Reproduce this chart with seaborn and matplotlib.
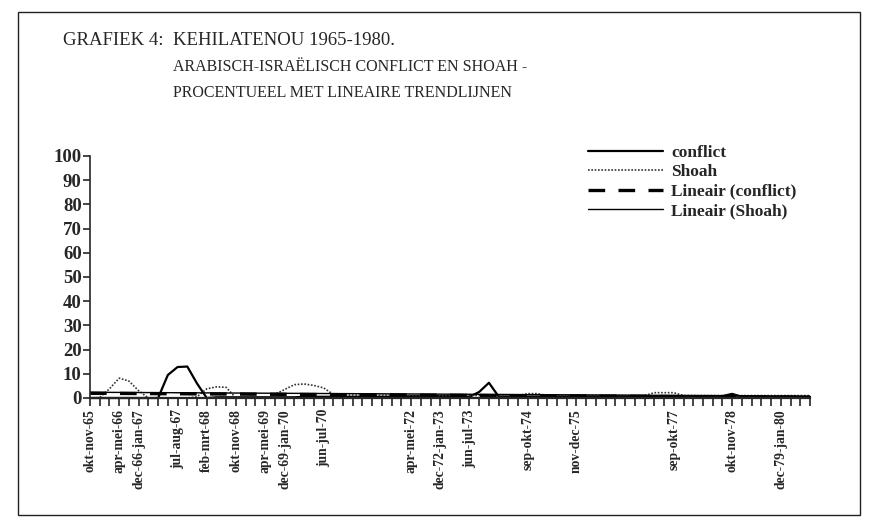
import numpy as np
import pandas as pd
import matplotlib
matplotlib.use("Agg")
import matplotlib.pyplot as plt
import seaborn as sns

# ---------------- data ----------------
n_periods = 75
label_idx = [0, 3, 5, 9, 12, 15, 18, 20, 24, 33, 36, 39, 45, 50, 60, 66, 71]
label_txt = ["okt-nov-65", "apr-mei-66", "dec-66-jan-67", "jul-aug-67", "feb-mrt-68",
             "okt-nov-68", "apr-mei-69", "dec-69-jan-70", "jun-jul-70", "apr-mei-72",
             "dec-72-jan-73", "jun-jul-73", "sep-okt-74", "nov-dec-75", "sep-okt-77",
             "okt-nov-78", "dec-79-jan-80"]

conflict = [
    0, 0, 0, 0, 0, 0, 0, 0, 9.5, 12.8,
    13.0, 6.0, 0, 0.3, 0.3, 0.3, 0.3, 0.3, 0.3, 0.3,
    0.3, 0.3, 0.5, 0.5, 0.5, 0.5, 0.5, 0.5, 0.5, 0.5,
    0.5, 0.5, 0.5, 0.8, 0.8, 0.8, 0.8, 0.8, 0.8, 0.5,
    2.5, 6.3, 0.6, 0.6, 0.6, 0.6, 0.6, 0.6, 0.6, 0.6,
    0.6, 0.6, 0.6, 0.6, 0.6, 0.6, 0.6, 0.6, 0.6, 0.6,
    0.6, 0.6, 0.6, 0.6, 0.6, 0.8, 1.7, 0.5, 0.5, 0.5,
    0.5, 0.5, 0.5, 0.5, 0.5]

shoah = [
    0, 0.2, 3.8, 8.2, 7.0, 3.0, 0, 0, 0, 0,
    0, 0.5, 3.8, 4.6, 4.4, 0, 0, 0, 0, 1.5,
    3.5, 5.5, 5.8, 5.2, 4.2, 1.5, 1.2, 1.2, 1.2, 1.2,
    1.2, 1.2, 1.2, 1.0, 1.0, 1.0, 1.0, 1.0, 1.0, 1.0,
    1.0, 1.0, 1.0, 1.0, 1.0, 1.8, 1.8, 1.0, 1.0, 1.0,
    1.0, 1.0, 1.0, 1.0, 1.0, 1.0, 1.0, 1.0, 2.2, 2.2,
    2.2, 1.0, 1.0, 1.0, 1.0, 1.0, 1.0, 1.0, 1.0, 1.0,
    1.0, 1.0, 1.0, 1.0, 1.0]

y_ticks = [0, 10, 20, 30, 40, 50, 60, 70, 80, 90, 100]

title_lines = ["KEHILATENOU 1965-1980.",
               "ARABISCH-ISRAËLISCH CONFLICT EN SHOAH -",
               "PROCENTUEEL MET LINEAIRE TRENDLIJNEN"]

# ---------------- plot ----------------
sns.set_style("ticks")
plt.rcParams["font.family"] = ["Liberation Serif", "DejaVu Serif"]

W, H = 878, 524
fig = plt.figure(figsize=(W / 100, H / 100), dpi=100)
ax = fig.add_axes([90 / W, 1 - 398 / H, (810 - 90) / W, (398 - 156) / H])

df = pd.DataFrame({"x": np.arange(n_periods), "conflict": conflict, "Shoah": shoah})

sns.lineplot(data=df, x="x", y="conflict", ax=ax, color="black", lw=1.6,
             label="conflict", clip_on=False)
sns.lineplot(data=df, x="x", y="Shoah", ax=ax, color="#333333", lw=1.2,
             linestyle=(0, (1, 1)), label="Shoah", clip_on=False)
sns.regplot(data=df, x="x", y="conflict", ax=ax, scatter=False, ci=None,
            label="Lineair (conflict)", color="black",
            line_kws=dict(lw=2.4, linestyle=(0, (5, 4))))
sns.regplot(data=df, x="x", y="Shoah", ax=ax, scatter=False, ci=None,
            label="Lineair (Shoah)", color="black",
            line_kws=dict(lw=1.0, linestyle="-"))

ax.set_xlim(0, n_periods - 1)
ax.set_ylim(0, 100)
ax.set_xlabel("")
ax.set_ylabel("")
sns.despine(ax=ax)
ax.spines["left"].set_linewidth(1.2)
ax.spines["bottom"].set_linewidth(1.6)

ax.set_yticks(y_ticks)
ax.set_yticklabels([str(v) for v in y_ticks], fontsize=13.5, fontweight="bold")
ax.tick_params(axis="y", length=5, width=1.2, pad=1)

xt_labels = [""] * n_periods
for i, t in zip(label_idx, label_txt):
    xt_labels[i] = t
ax.set_xticks(np.arange(n_periods))
ax.set_xticklabels(xt_labels, rotation=90, fontsize=9.8, fontweight="bold")
ax.tick_params(axis="x", length=6, width=1.2, pad=2)

leg = ax.legend(loc="upper left", bbox_to_anchor=(588 / W, 1 - 145 / H),
                bbox_transform=fig.transFigure, frameon=False,
                prop=dict(weight="bold", size=12.5), handlelength=4.3, handletextpad=0.5,
                labelspacing=0.18, borderpad=0, borderaxespad=0)

# title
fig.text(63 / W, 1 - 45 / H, "GRAFIEK 4:", fontsize=13.5, va="baseline", ha="left")
title_sizes = [13.5, 11.5, 11.5]
for k, line in enumerate(title_lines):
    fig.text(173 / W, 1 - (45 + 26 * k) / H, line, fontsize=title_sizes[k],
             va="baseline", ha="left")

# outer frame
frame = plt.Rectangle((18 / W, 1 - 515 / H), (860 - 18) / W, (515 - 12) / H,
                      transform=fig.transFigure, fill=False, lw=1.0, edgecolor="#222222")
fig.add_artist(frame)

fig.savefig("out.png", dpi=100)
